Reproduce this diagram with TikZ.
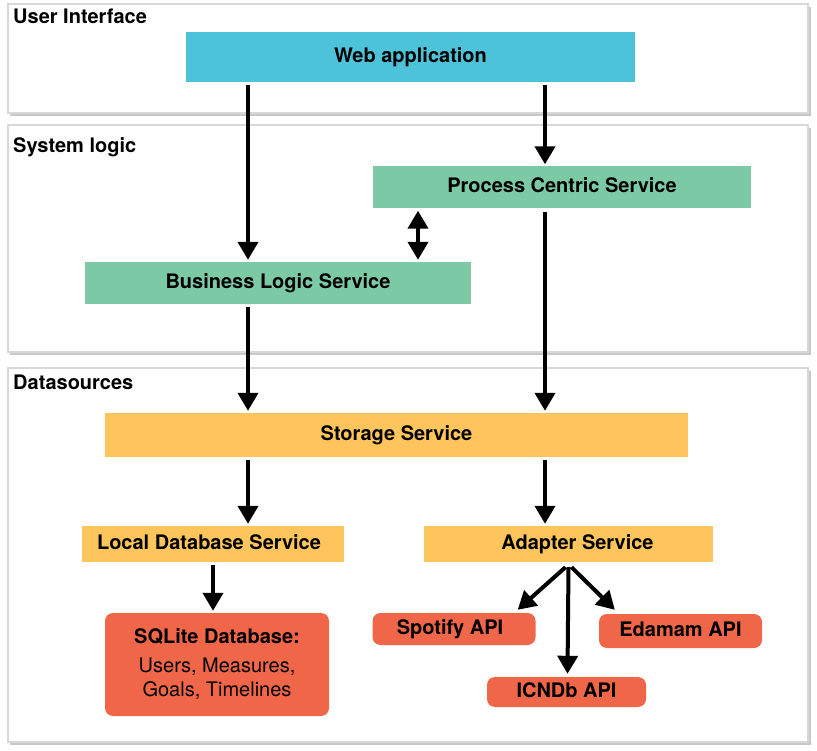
\documentclass[tikz,border=0pt]{standalone}
\usepackage{fontspec}
\setmainfont{TeX Gyre Heros}
\usetikzlibrary{arrows.meta,calc}
\definecolor{uiblue}{HTML}{4DC3DA}
\definecolor{slgreen}{HTML}{7CC9A5}
\definecolor{dsyellow}{HTML}{FEC55C}
\definecolor{apired}{HTML}{F06648}
\definecolor{panelline}{HTML}{D8D8D8}
\definecolor{panelshadow}{HTML}{C8C8C8}
\begin{document}
\begin{tikzpicture}[x=1pt,y=-1pt,
  box/.style={draw=none, inner sep=0pt, font=\fontsize{20}{24}\selectfont\bfseries, text=black, text height=14pt, text depth=3.4pt},
  rbox/.style={box, fill=apired, rounded corners=8pt},
  lbl/.style={inner sep=0pt, font=\fontsize{20}{24}\selectfont\bfseries, text=black},
  arr/.style={line width=4pt, -{Triangle[width=20pt,length=18pt]}, shorten <=3pt, shorten >=2pt},
  dbl/.style={line width=4pt, {Triangle[width=20pt,length=18pt]}-{Triangle[width=20pt,length=18pt]}, shorten <=2pt, shorten >=2pt},
  panel/.style={draw=panelline, line width=2pt, fill=white},
  pshadow/.style={fill=panelshadow}
]
\useasboundingbox (0,0) rectangle (817,751);
\fill[white] (0,0) rectangle (817,751);

% panels
\fill[pshadow] (10,7) rectangle (811,116);
\draw[panel] (8,4) rectangle (808,113);
\fill[pshadow] (10,128) rectangle (811,355);
\draw[panel] (8,125) rectangle (808,352);
\fill[pshadow] (10,371) rectangle (811,745);
\draw[panel] (8,368) rectangle (808,742);

\node[lbl, anchor=base west] (uil) at (13,24) {User Interface};
\node[lbl, anchor=base west] (sll) at (13,153) {System logic};
\node[lbl, anchor=base west] (dsl) at (13,389) {Datasources};

% boxes
\node[box, fill=uiblue, minimum width=449pt, minimum height=50pt] (web) at (410.5,57) {Web application};
\node[box, fill=slgreen, minimum width=378pt, minimum height=42pt] (pcs) at (562,187.5) {Process Centric Service};
\node[box, fill=slgreen, minimum width=386pt, minimum height=42pt] (bls) at (278,283) {Business Logic Service};
\node[box, fill=dsyellow, minimum width=583pt, minimum height=44pt] (sto) at (396.5,435) {Storage Service};
\node[box, fill=dsyellow, minimum width=262pt, minimum height=36pt] (ldb) at (213,544) {Local Database Service\hspace*{8pt}};
\node[box, fill=dsyellow, minimum width=289pt, minimum height=36pt] (ads) at (568.5,544) {\hspace*{18pt}Adapter Service};
\node[rbox, text height=, text depth=, minimum width=224pt, minimum height=103pt, align=center] (sql) at (217,664.5)
  {SQLite Database:\\[5pt]{\mdseries Users, Measures,}\\{\mdseries Goals, Timelines}};
\node[rbox, minimum width=163pt, minimum height=32pt] (spo) at (454,629) {Spotify API\hspace*{8pt}};
\node[rbox, minimum width=163pt, minimum height=34pt] (eda) at (680.5,631) {Edamam API};
\node[rbox, minimum width=159pt, minimum height=30pt] (ico) at (566.5,692) {ICNDb API};

% connectors
\coordinate (xa) at (248,0);
\coordinate (xb) at (545,0);
\coordinate (xc) at (418,0);
\coordinate (xd) at (213,0);
\draw[arr] (web.south -| xa) -- (bls.north -| xa);
\draw[arr] (web.south -| xb) -- (pcs.north -| xb);
\draw[dbl] (pcs.south -| xc) -- (bls.north -| xc);
\draw[arr] (bls.south -| xa) -- (sto.north -| xa);
\draw[arr] (pcs.south -| xb) -- (sto.north -| xb);
\draw[arr] (sto.south -| xa) -- (ldb.north -| xa);
\draw[arr] (sto.south -| xb) -- (ads.north -| xb);
\draw[arr] (ldb.south -| xd) -- (sql.north -| xd);
\draw[arr, shorten <=0pt, shorten >=0pt] ($(ads.south)+(-3,5)$) -- ($(spo.north east)+(-18,-3)$);
\draw[arr, shorten <=0pt, shorten >=0pt] ($(ads.south)+(0,5)$) -- ($(ico.north)+(1,-3)$);
\draw[arr, shorten <=0pt, shorten >=0pt] ($(ads.south)+(3,5)$) -- ($(eda.north west)+(16,-4)$);
\end{tikzpicture}
\end{document}
